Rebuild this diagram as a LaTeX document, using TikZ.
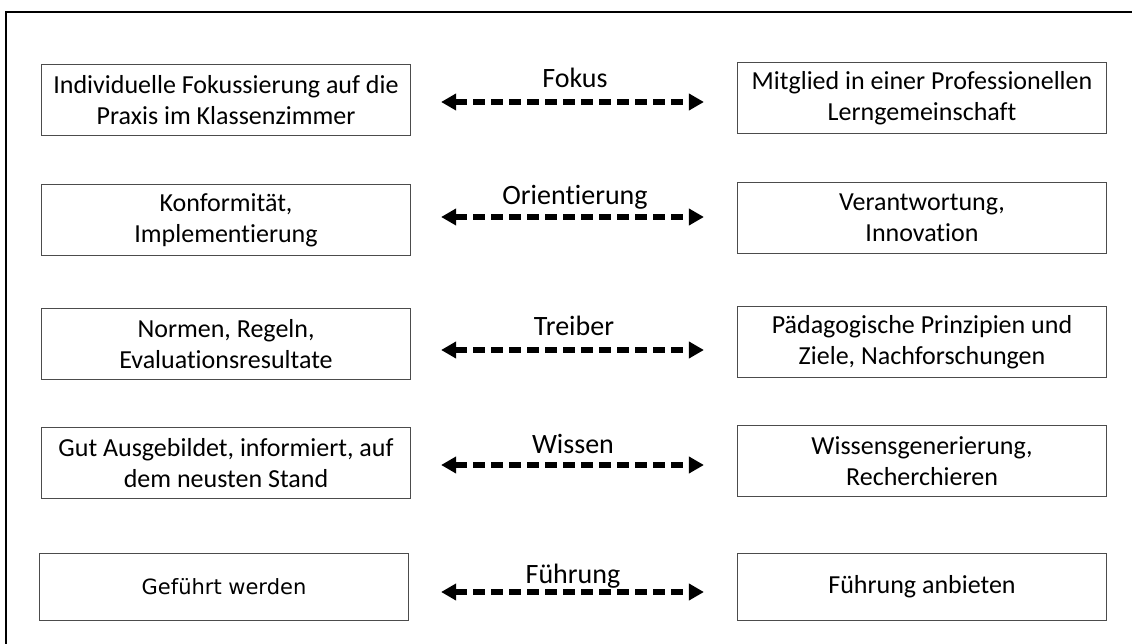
\documentclass[tikz,border=0pt]{standalone}
\usepackage{fontspec}
\setmainfont{Carlito}[Ligatures=NoCommon]
\newfontfamily\verdanalike{DejaVu Sans}
\usetikzlibrary{arrows.meta,calc}
\tikzset{
  box/.style={draw=black!70, line width=1.2pt, rectangle, minimum width=369pt, minimum height=71pt, align=center, font=\fontsize{26}{31}\selectfont, inner sep=0pt},
  biarrow/.style={line width=5.5pt, dash pattern=on 12pt off 6pt, {Triangle[length=15pt,width=16pt]}-{Triangle[length=15pt,width=16pt]}},
  lbl/.style={anchor=base, font=\fontsize{28}{32}\selectfont, inner sep=0pt},
  frame/.style={line width=2pt, black}
}
\begin{document}
\begin{tikzpicture}[x=1pt,y=-1pt]
\useasboundingbox (0,0) rectangle (1132,644);
\coordinate (fl) at (6,644);
\coordinate (fc) at (6,12);
\coordinate (fr) at (1132,12);
\draw[frame] (fl) -- (fc) -- (fr);

\node[box] (L1) at (226,100) {Individuelle Fokussierung auf die\\Praxis im Klassenzimmer};
\node[box] (R1) at (922,98) {Mitglied in einer Professionellen\\Lerngemeinschaft};
\node[box] (L2) at (226,220) {Konformität,\\Implementierung};
\node[box] (R2) at (922,218) {Verantwortung,\\Innovation};
\node[box] (L3) at (226,344) {Normen, Regeln,\\Evaluationsresultate};
\node[box] (R3) at (922,342) {Pädagogische Prinzipien und\\Ziele, Nachforschungen};
\node[box] (L4) at (226,463) {Gut Ausgebildet, informiert, auf\\dem neusten Stand};
\node[box] (R4) at (922,461) {Wissensgenerierung,\\Recherchieren};
\node[box, minimum height=67pt, font=\verdanalike\fontsize{21}{25}\selectfont] (L5) at (224,587) {Geführt werden};
\node[box, minimum height=67pt] (R5) at (922,587) {Führung anbieten};

\draw[biarrow] ($(L1.east)+(30,2)$) -- ($(R1.west)+(-33,4)$);
\draw[biarrow] ($(L2.east)+(30,-3)$) -- ($(R2.west)+(-33,-1)$);
\draw[biarrow] ($(L3.east)+(30,6)$) -- ($(R3.west)+(-33,8)$);
\draw[biarrow] ($(L4.east)+(30,2)$) -- ($(R4.west)+(-33,4)$);
\draw[biarrow] ($(L5.east)+(32,5)$) -- ($(R5.west)+(-33,5)$);

\node[lbl] (t1) at (575,88) {Fokus};
\node[lbl] (t2) at (575,205) {Orientierung};
\node[lbl] (t3) at (574,335) {Treiber};
\node[lbl] (t4) at (573,453) {Wissen};
\node[lbl] (t5) at (573,583) {Führung};
\end{tikzpicture}
\end{document}
